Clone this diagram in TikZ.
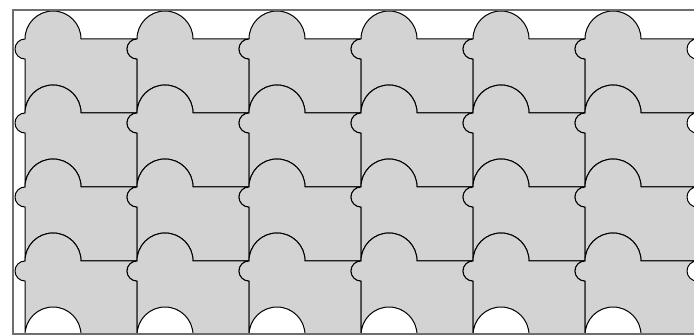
\documentclass[tikz,border=0pt]{standalone}
\definecolor{tilegray}{RGB}{211,211,211}
\definecolor{framegray}{RGB}{110,110,110}
\begin{document}
\begin{tikzpicture}[
			x=1pt, y=1pt,
			tile/.style={fill=tilegray, draw=black, line width=1pt, line join=round},
			frame/.style={draw=framegray, line width=1.4pt}
			]
			\useasboundingbox (0,0) rectangle (694,335);
			% --- tiles ---
			\begin{scope}
				\clip (13,1) rectangle (700,325);
				\foreach \row in {0,...,3}{
					\foreach \col in {0,...,5}{
						\begin{scope}[shift={(25+112*\col,296-74*\row)}]
							\draw[tile] (0,0) arc[start angle=180, end angle=0, radius=28]
								-- (112,0) arc[start angle=90, end angle=270, radius=10]
								-- (112,-74) -- (56,-74) arc[start angle=0, end angle=180, radius=28]
								-- (0,-20) arc[start angle=270, end angle=90, radius=10] -- cycle;
						\end{scope}
					}
				}
			\end{scope}
			% --- frame ---
			\draw[frame] (13,1) rectangle (700,325);
		\end{tikzpicture}
\end{document}
